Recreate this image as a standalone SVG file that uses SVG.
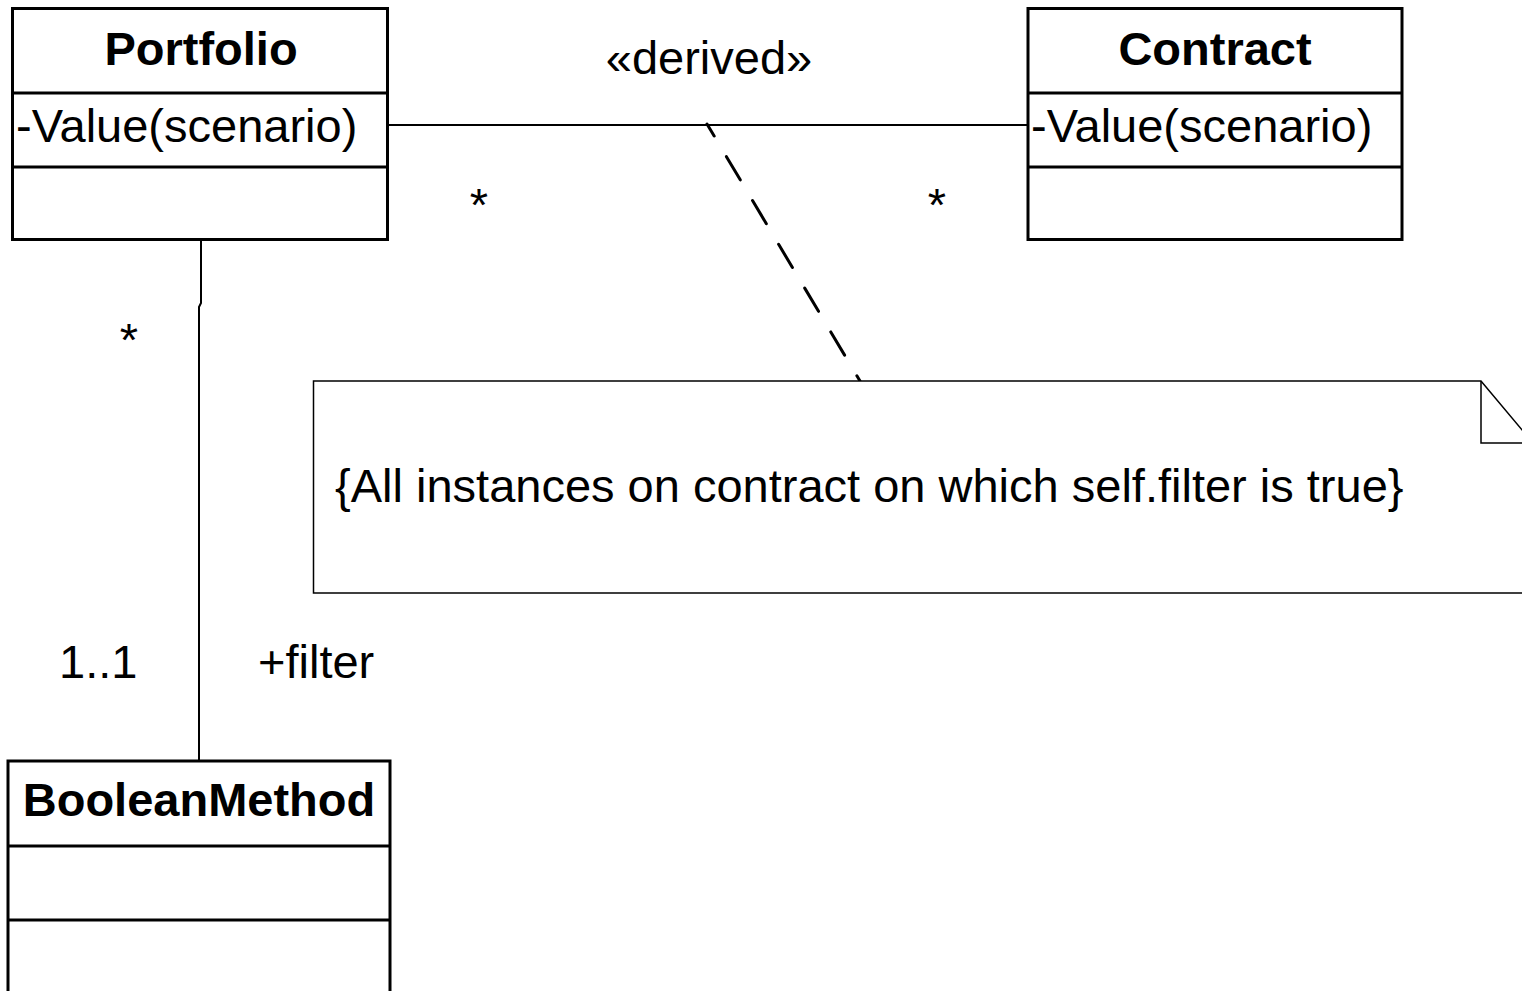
<svg xmlns="http://www.w3.org/2000/svg" width="1522" height="991" viewBox="0 0 1522 991">
<style>
.box{fill:#fff;stroke:#000;stroke-width:3}
.div{stroke:#000;stroke-width:3;fill:none}
.t{font-family:"Liberation Sans",Arial,sans-serif;font-size:47px;fill:#000}
.b{font-weight:bold;text-anchor:middle}
.m{text-anchor:middle}
.ln{stroke:#000;stroke-width:2;fill:none}
</style>
<rect width="1522" height="991" fill="#fff"/>
<g id="connectors">
<line class="ln" x1="388" y1="125" x2="1028" y2="125"/>
<polyline class="ln" points="201,241 201,303 199,307 199,761"/>
<line x1="707" y1="124" x2="860" y2="381" stroke="#000" stroke-width="3" stroke-linecap="round" stroke-dasharray="27 24" stroke-dashoffset="13"/>
</g>
<g id="portfolio">
<rect class="box" x="12.5" y="8.5" width="375" height="231"/>
<line class="div" x1="12.5" y1="93" x2="387.5" y2="93"/>
<line class="div" x1="12.5" y1="167" x2="387.5" y2="167"/>
<text class="t b" x="201" y="65">Portfolio</text>
<text class="t" x="16" y="142">-Value(scenario)</text>
</g>
<g id="contract">
<rect class="box" x="1028" y="8.5" width="374" height="231"/>
<line class="div" x1="1028" y1="93" x2="1402" y2="93"/>
<line class="div" x1="1028" y1="167" x2="1402" y2="167"/>
<text class="t b" x="1215" y="65">Contract</text>
<text class="t" x="1031" y="142">-Value(scenario)</text>
</g>
<g id="booleanmethod">
<rect class="box" x="8" y="761" width="382" height="250"/>
<line class="div" x1="8" y1="846" x2="390" y2="846"/>
<line class="div" x1="8" y1="920" x2="390" y2="920"/>
<text class="t b" x="199" y="816">BooleanMethod</text>
</g>
<g id="note">
<path d="M313.5,381 L1481,381 L1533,443 L1533,593 L313.5,593 Z" fill="#fff" stroke="#000" stroke-width="1.5"/>
<path d="M1481,381 L1481,443 L1533,443" fill="none" stroke="#000" stroke-width="1.5"/>
<text class="t" x="335" y="502">{All instances on contract on which self.filter is true}</text>
</g>
<g id="labels">
<text class="t m" x="709" y="74">«derived»</text>
<text class="t m" x="479" y="221">*</text>
<text class="t m" x="937" y="221">*</text>
<text class="t m" x="129" y="356">*</text>
<text class="t" x="59" y="678">1..1</text>
<text class="t" x="258" y="678">+filter</text>
</g>
</svg>
